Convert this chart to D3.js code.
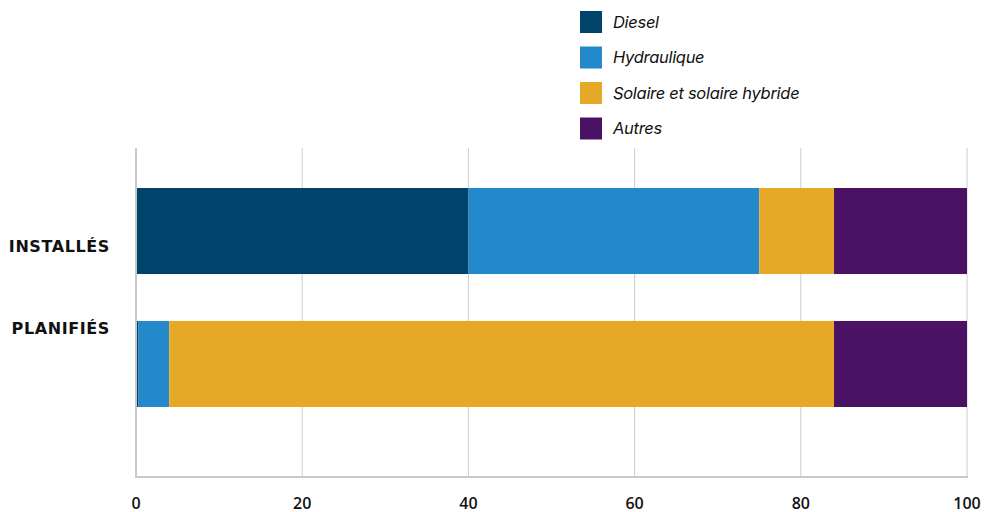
<!DOCTYPE html>
<html>
<head>
<meta charset="utf-8">
<script src="https://cdn.jsdelivr.net/npm/d3@7"></script>
<style>
  html, body { margin: 0; padding: 0; background: #fff; }
  svg { display: block; }
</style>
</head>
<body>
<svg id="chart" width="988" height="512"></svg>
<script>
// Share of capacity by energy source (%)
const categories = ["INSTALLÉS", "PLANIFIÉS"];
const seriesNames = ["Diesel", "Hydraulique", "Solaire et solaire hybride", "Autres"];
const diesel      = [40, 0.3];
const hydraulique = [35, 3.7];
const solaire     = [9, 80];
const autres      = [16, 16];
const ticks = [0, 20, 40, 60, 80, 100];
const colors = ["#00446b", "#2389cb", "#e6a927", "#4a1264"];

const values = [diesel, hydraulique, solaire, autres];
const rows = categories.map((c, i) => {
  const r = { cat: c };
  seriesNames.forEach((s, j) => r[s] = values[j][i]);
  return r;
});

const svg = d3.select("#chart");
const x = d3.scaleLinear().domain([0, 100]).range([136, 967]);
const y = d3.scaleBand().domain(categories).range([188, 407]).paddingInner(0.353);
const labelY = d3.scalePoint().domain(categories).range([246, 328]);
const plotTop = 148, plotBottom = 477;

// vertical gridlines
svg.append("g").selectAll("line").data(ticks.slice(1)).join("line")
  .attr("x1", d => x(d)).attr("x2", d => x(d))
  .attr("y1", plotTop).attr("y2", plotBottom)
  .attr("stroke", "#cccccc").attr("stroke-width", 1);

// stacked bars
const stack = d3.stack().keys(seriesNames)(rows);
svg.append("g").selectAll("g").data(stack).join("g")
  .attr("fill", (d, i) => colors[i])
  .selectAll("rect").data(d => d).join("rect")
  .attr("x", d => x(d[0]))
  .attr("width", d => x(d[1]) - x(d[0]))
  .attr("y", d => y(d.data.cat))
  .attr("height", y.bandwidth());

// axis lines
svg.append("line")
  .attr("x1", x(0)).attr("x2", x(0)).attr("y1", plotTop).attr("y2", plotBottom + 1)
  .attr("stroke", "#c8c8c8").attr("stroke-width", 2);
svg.append("line")
  .attr("x1", x(0) - 1).attr("x2", x(100) + 1).attr("y1", plotBottom).attr("y2", plotBottom)
  .attr("stroke", "#c8c8c8").attr("stroke-width", 2);

// tick labels
svg.append("g").selectAll("text").data(ticks).join("text")
  .attr("x", d => x(d)).attr("y", 508.5)
  .attr("text-anchor", "middle")
  .attr("font-family", "'Open Sans', sans-serif")
  .attr("font-weight", 600).attr("font-size", 16)
  .attr("fill", "#111")
  .text(d => d);

// category labels
svg.append("g").selectAll("text").data(categories).join("text")
  .attr("x", 110).attr("y", d => labelY(d))
  .attr("dy", "0.35em")
  .attr("text-anchor", "end")
  .attr("font-family", "'DejaVu Sans', sans-serif")
  .attr("font-weight", 700).attr("font-size", 16)
  .attr("letter-spacing", "0.6px")
  .attr("fill", "#111")
  .text(d => d);

// legend
const legend = svg.append("g").selectAll("g").data(seriesNames).join("g")
  .attr("transform", (d, i) => `translate(580, ${11 + i * 35.5})`);
legend.append("rect").attr("width", 22).attr("height", 22)
  .attr("fill", (d, i) => colors[i]);
legend.append("text").attr("x", 33).attr("y", 11).attr("dy", "0.35em")
  .attr("font-family", "Inter, sans-serif").attr("font-style", "italic")
  .attr("font-size", 16.5).attr("letter-spacing", "-0.3px")
  .attr("fill", "#111")
  .text(d => d);
</script>
</body>
</html>
